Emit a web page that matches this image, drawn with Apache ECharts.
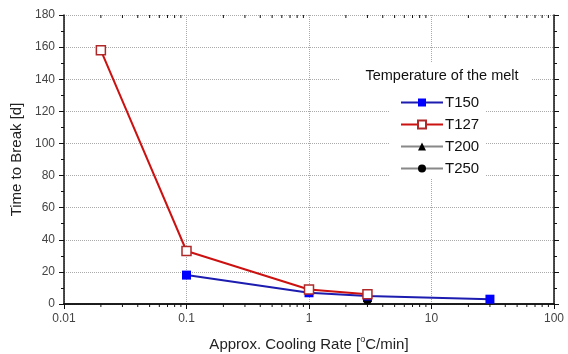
<!DOCTYPE html>
<html>
<head>
<meta charset="utf-8">
<script src="https://cdn.jsdelivr.net/npm/echarts@6/dist/echarts.min.js"></script>
<style>
  html, body { margin: 0; padding: 0; background: #fff; }
  #chart { width: 568px; height: 354px; }
</style>
</head>
<body>
<div id="chart"></div>
<script>
// data
const t150Data = [[0.1, 18], [1, 7], [3, 5], [30, 3]]
const t127Data = [[0.02, 158], [0.1, 33], [1, 9], [3, 6]]
const t200Data = [[3, 4]]
const t250Data = [[3, 2.5]]
const legendNames = ['T150', 'T127', 'T200', 'T250']

// minor ticks of the log axis: 2..9 in each decade
const decades = [0.01, 0.1, 1, 10]
const mults = [2, 3, 4, 5, 6, 7, 8, 9]
const minorTicks = []
decades.forEach(d => mults.forEach(m => minorTicks.push([+(d * m).toPrecision(3), 0])))

const font = 'Liberation Sans, Arial, sans-serif'
const myChart = echarts.init(document.querySelector('#chart'))

const option = {
  backgroundColor: '#fff',
  animation: false,
  textStyle: { fontFamily: font },
  grid: { left: 64, right: 14, top: 15, bottom: 50, outerBoundsMode: 'none' },
  xAxis: [
    {
      type: 'log',
      logBase: 10,
      min: 0.01,
      max: 100,
      name: '{n|Approx. Cooling Rate [}{s|o}{n|C/min]}',
      nameLocation: 'middle',
      nameGap: 31,
      nameTextStyle: {
        rich: {
          n: { fontSize: 15, color: '#222', fontFamily: font },
          s: { fontSize: 9, color: '#222', fontFamily: font, verticalAlign: 'top', padding: [0, 0, 10, 0] }
        }
      },
      axisLine: { lineStyle: { color: '#111', width: 1.5 } },
      axisTick: { inside: false, length: 5, lineStyle: { color: '#111' } },
      axisLabel: { fontSize: 12, color: '#444', margin: 9 },
      splitLine: { show: true, lineStyle: { type: 'dotted', color: '#aaa' } }
    },
    {
      type: 'log',
      logBase: 10,
      min: 0.01,
      max: 100,
      position: 'top',
      axisLine: { lineStyle: { color: '#111', width: 1.5 } },
      axisTick: { inside: true, length: 5, lineStyle: { color: '#111' } },
      axisLabel: { show: false },
      splitLine: { show: false }
    }
  ],
  yAxis: [
    {
      type: 'value',
      min: 0,
      max: 180,
      interval: 20,
      name: 'Time to Break [d]',
      nameLocation: 'middle',
      nameGap: 40,
      nameTextStyle: { fontSize: 15, color: '#222' },
      axisLine: { show: true, lineStyle: { color: '#111', width: 1.5 } },
      axisTick: { show: true, length: 5, lineStyle: { color: '#111' } },
      minorTick: { show: true, splitNumber: 2, length: 3, lineStyle: { color: '#111' } },
      axisLabel: { fontSize: 12, color: '#444', margin: 9 },
      splitLine: { show: true, lineStyle: { type: 'dotted', color: '#aaa' } }
    },
    {
      type: 'value',
      min: 0,
      max: 180,
      interval: 20,
      position: 'right',
      axisLine: { show: true, lineStyle: { color: '#111', width: 1.5 } },
      axisTick: { show: true, length: 5, lineStyle: { color: '#111' } },
      minorTick: { show: true, splitNumber: 2, length: 3, lineStyle: { color: '#111' } },
      axisLabel: { show: false },
      splitLine: { show: false }
    }
  ],
  graphic: [
    { type: 'rect', shape: { x: 340, y: 62, width: 192, height: 27 }, style: { fill: '#fff' }, z: 5 },
    { type: 'rect', shape: { x: 390, y: 89, width: 95, height: 89 }, style: { fill: '#fff' }, z: 5 },
    {
      type: 'text', x: 442, y: 76, z: 6,
      style: { text: 'Temperature of the melt', fontSize: 14.5, fontFamily: font, fill: '#111', align: 'center', verticalAlign: 'middle' }
    }
  ],
  legend: {
    data: legendNames,
    orient: 'vertical',
    left: 395,
    top: 90,
    itemWidth: 42,
    itemHeight: 10,
    itemGap: 7,
    z: 7,
    textStyle: { fontSize: 15, color: '#111', fontFamily: font, padding: [0, 0, 0, -3] }
  },
  series: [
    {
      name: 'T150',
      type: 'line',
      data: t150Data,
      symbol: 'rect',
      symbolSize: 9,
      lineStyle: { color: '#1c1cb0', width: 2 },
      itemStyle: { color: '#0000ff' },
      z: 3
    },
    {
      name: 'T127',
      type: 'line',
      data: t127Data,
      symbol: 'rect',
      symbolSize: 9,
      lineStyle: { color: '#cc1111', width: 2 },
      itemStyle: { color: '#fff', borderColor: '#b02828', borderWidth: 1.5 },
      z: 4
    },
    {
      name: 'T200',
      type: 'line',
      data: t200Data,
      symbol: 'triangle',
      symbolSize: 9,
      lineStyle: { color: '#888', width: 1.5 },
      itemStyle: { color: '#000' },
      z: 2
    },
    {
      name: 'T250',
      type: 'line',
      data: t250Data,
      symbol: 'circle',
      symbolSize: 9,
      lineStyle: { color: '#888', width: 1.5 },
      itemStyle: { color: '#000' },
      z: 2
    },
    {
      name: 'minorTicks',
      type: 'custom',
      silent: true,
      clip: false,
      data: minorTicks,
      encode: { x: 0, y: 1 },
      renderItem: (params, api) => {
        const cs = params.coordSys
        const x = api.coord([api.value(0), 0])[0]
        const bottom = cs.y + cs.height
        const top = cs.y
        return {
          type: 'group',
          children: [
            { type: 'line', shape: { x1: x, y1: bottom, x2: x, y2: bottom + 3 }, style: { stroke: '#111', lineWidth: 1 } },
            { type: 'line', shape: { x1: x, y1: top, x2: x, y2: top + 3 }, style: { stroke: '#111', lineWidth: 1 } }
          ]
        }
      },
      z: 1
    }
  ]
}

myChart.setOption(option)
</script>
</body>
</html>
